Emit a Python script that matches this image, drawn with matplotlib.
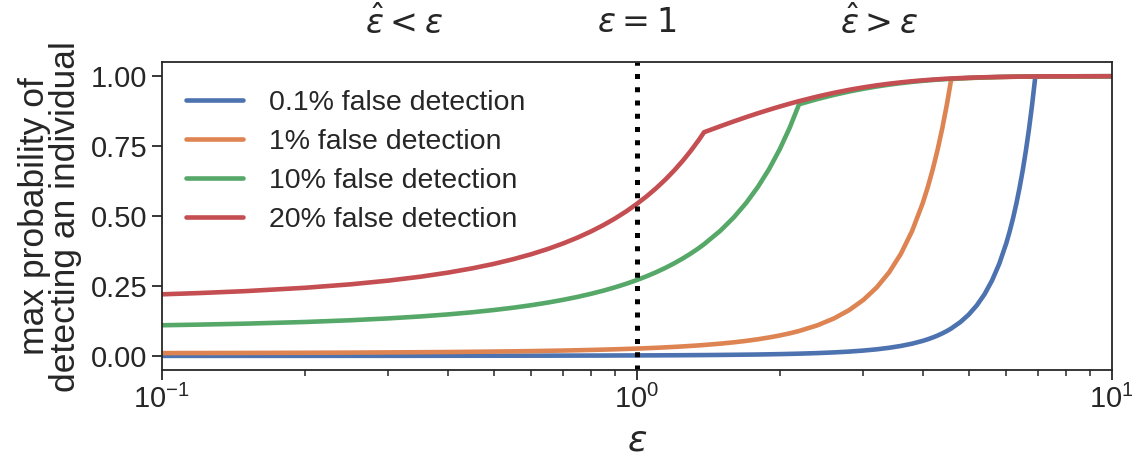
import matplotlib
matplotlib.use("Agg")
import matplotlib.pyplot as plt
import matplotlib.transforms as mtransforms
import seaborn as sns

sns.set_style("ticks")
plt.rcParams['font.family'] = 'sans-serif'
plt.rcParams['font.sans-serif'] = ['Liberation Sans', 'DejaVu Sans']
plt.rcParams['mathtext.fontset'] = 'dejavusans'

# ========================== DATA ==========================
eps = [0.1, 0.12, 0.15, 0.2, 0.25, 0.3, 0.35, 0.4, 0.45, 0.5,
       0.55, 0.6, 0.65, 0.7, 0.75, 0.8, 0.85, 0.9, 0.95,
       1.0, 1.05, 1.1, 1.15, 1.2, 1.25, 1.3, 1.35, 1.386,
       1.5, 1.6, 1.7, 1.8, 1.9, 2.0, 2.1, 2.197, 2.4, 2.6,
       2.8, 3.0, 3.2, 3.4, 3.6, 3.8, 4.0, 4.1, 4.2, 4.3,
       4.4, 4.5, 4.595, 4.8, 5.0, 5.2, 5.4, 5.6, 5.8, 6.0,
       6.1, 6.2, 6.3, 6.4, 6.5, 6.6, 6.7, 6.8, 6.908, 7.5,
       8.5, 10.0]

# 0.1% false detection
p_01 = [0.0011, 0.0011, 0.0012, 0.0012, 0.0013, 0.0013, 0.0014, 0.0015, 0.0016, 0.0016,
        0.0017, 0.0018, 0.0019, 0.0020, 0.0021, 0.0022, 0.0023, 0.0025, 0.0026,
        0.0027, 0.0029, 0.0030, 0.0032, 0.0033, 0.0035, 0.0037, 0.0039, 0.0040,
        0.0045, 0.0050, 0.0055, 0.0060, 0.0067, 0.0074, 0.0082, 0.0090, 0.0110, 0.0135,
        0.0164, 0.0201, 0.0245, 0.0300, 0.0366, 0.0447, 0.0546, 0.0603, 0.0667, 0.0737,
        0.0815, 0.0900, 0.0990, 0.1215, 0.1484, 0.1813, 0.2214, 0.2704, 0.3303, 0.4034,
        0.4459, 0.4927, 0.5446, 0.6018, 0.6651, 0.7351, 0.8124, 0.8978, 0.9990, 0.9994,
        0.9998, 1.0000]

# 1% false detection
p_1 = [0.0111, 0.0113, 0.0116, 0.0122, 0.0128, 0.0135, 0.0142, 0.0149, 0.0157, 0.0165,
       0.0173, 0.0182, 0.0192, 0.0201, 0.0212, 0.0223, 0.0234, 0.0246, 0.0259,
       0.0272, 0.0286, 0.0300, 0.0316, 0.0332, 0.0349, 0.0367, 0.0386, 0.0400,
       0.0448, 0.0495, 0.0547, 0.0605, 0.0669, 0.0739, 0.0817, 0.0900, 0.1102, 0.1346,
       0.1644, 0.2009, 0.2453, 0.2996, 0.3660, 0.4470, 0.5460, 0.6034, 0.6669, 0.7370,
       0.8145, 0.9002, 0.9900, 0.9919, 0.9933, 0.9945, 0.9955, 0.9963, 0.9970, 0.9975,
       0.9978, 0.9980, 0.9982, 0.9984, 0.9985, 0.9987, 0.9988, 0.9989, 0.9990, 0.9995,
       0.9998, 1.0000]

# 10% false detection
p_10 = [0.1105, 0.1128, 0.1162, 0.1221, 0.1284, 0.1350, 0.1419, 0.1492, 0.1568, 0.1649,
        0.1733, 0.1822, 0.1916, 0.2014, 0.2117, 0.2226, 0.2340, 0.2460, 0.2586,
        0.2718, 0.2858, 0.3004, 0.3158, 0.3320, 0.3490, 0.3669, 0.3857, 0.4000,
        0.4482, 0.4953, 0.5474, 0.6050, 0.6686, 0.7389, 0.8166, 0.9000, 0.9184, 0.9332,
        0.9453, 0.9552, 0.9633, 0.9700, 0.9754, 0.9799, 0.9835, 0.9851, 0.9865, 0.9878,
        0.9890, 0.9900, 0.9909, 0.9926, 0.9939, 0.9950, 0.9959, 0.9967, 0.9973, 0.9978,
        0.9980, 0.9982, 0.9983, 0.9985, 0.9986, 0.9988, 0.9989, 0.9990, 0.9991, 0.9995,
        0.9998, 1.0000]

# 20% false detection
p_20 = [0.2210, 0.2255, 0.2324, 0.2443, 0.2568, 0.2700, 0.2838, 0.2984, 0.3137, 0.3297,
        0.3467, 0.3644, 0.3831, 0.4028, 0.4234, 0.4451, 0.4679, 0.4919, 0.5171,
        0.5437, 0.5715, 0.6008, 0.6316, 0.6640, 0.6981, 0.7339, 0.7715, 0.8000,
        0.8215, 0.8385, 0.8539, 0.8678, 0.8803, 0.8917, 0.9020, 0.9111, 0.9274, 0.9406,
        0.9514, 0.9602, 0.9674, 0.9733, 0.9781, 0.9821, 0.9853, 0.9867, 0.9880, 0.9891,
        0.9902, 0.9911, 0.9919, 0.9934, 0.9946, 0.9956, 0.9964, 0.9970, 0.9976, 0.9980,
        0.9982, 0.9984, 0.9985, 0.9987, 0.9988, 0.9989, 0.9990, 0.9991, 0.9992, 0.9996,
        0.9998, 1.0000]

series = [p_01, p_1, p_10, p_20]
labels = ["0.1% false detection", "1% false detection",
          "10% false detection", "20% false detection"]
colors = sns.color_palette("deep")[:4]

# ========================== PLOT ==========================
fig = plt.figure(figsize=(11.32, 4.61), dpi=100)
ax = fig.add_axes([0.143, 0.197, 0.839, 0.668])

for vals, lab, col in zip(series, labels, colors):
    ax.plot(eps, vals, color=col, linewidth=3.3, label=lab)

ax.axvline(1.0, color='black', linestyle=':', linewidth=3.6)

ax.set_xscale('log')
ax.set_xlim(0.1, 10)
ax.set_ylim(-0.05, 1.05)
ax.set_yticks([0.0, 0.25, 0.5, 0.75, 1.0])
ax.tick_params(axis='both', which='major', labelsize=21, length=7, width=1.3,
               colors='#262626')
ax.tick_params(axis='x', which='minor', length=4.5, width=1.1, colors='#262626')
for s in ax.spines.values():
    s.set_linewidth(1.3)
    s.set_color('#262626')

ax.set_xlabel(r'$\varepsilon$', fontsize=26, labelpad=7)
ax.set_ylabel("max probability of\ndetecting an individual", fontsize=25.5,
              linespacing=0.95, labelpad=6)

trans = mtransforms.blended_transform_factory(ax.transData, ax.transAxes)
ax.text(10 ** -0.49, 1.125, r'$\hat{\varepsilon} < \varepsilon$', transform=trans,
        ha='center', va='center', fontsize=24)
ax.text(1.0, 1.125, r'$\varepsilon = 1$', transform=trans,
        ha='center', va='center', fontsize=24)
ax.text(10 ** 0.51, 1.125, r'$\hat{\varepsilon} > \varepsilon$', transform=trans,
        ha='center', va='center', fontsize=24)

ax.legend(loc='upper left', bbox_to_anchor=(0.0, 0.987), fontsize=20.5,
          frameon=False, handlelength=2.0, labelspacing=0.45,
          borderaxespad=0.45, handletextpad=0.9)

plt.savefig("out.png", dpi=100)
plt.close()
